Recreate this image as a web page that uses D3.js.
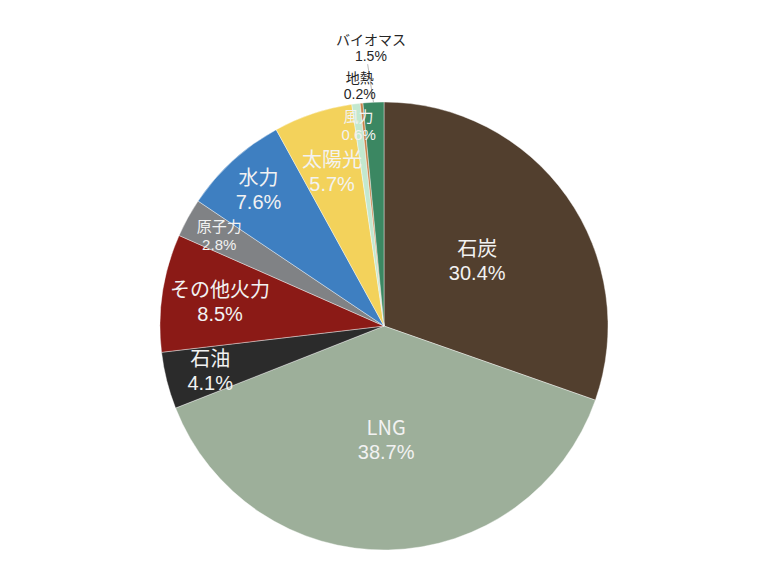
<!DOCTYPE html>
<html>
<head>
<meta charset="utf-8">
<script src="https://cdn.jsdelivr.net/npm/d3@7"></script>
<style>
  body { margin: 0; background: #fff; }
  text { font-family: "Noto Sans CJK JP", "Noto Sans", sans-serif; }
  text.pct { font-family: "Liberation Sans", Arial, sans-serif; }
</style>
</head>
<body>
<div id="chart"></div>
<script>
// data, clockwise from 12 o'clock
const categories = ['石炭', 'LNG', '石油', 'その他火力', '原子力', '水力', '太陽光', '風力', '地熱', 'バイオマス'];
const shares = [30.4, 38.7, 4.1, 8.5, 2.8, 7.6, 5.7, 0.6, 0.2, 1.5];
const colors = ['#523f2e', '#9daf9a', '#2b2b2b', '#8b1a16', '#808285', '#3e7fc1', '#f3d25b', '#c3e8cf', '#c8834a', '#3b8762'];

// label placement (fraction of radius) and text size
const labelR = [0.51, 0.505, 0.8, 0.74, 0.84, 0.83, 0.73, 0.905, 1.08, 1.245];
const fontSize = [20, 20, 20, 20, 15, 20, 20, 15, 14, 14];
const outside = [false, false, false, false, false, false, false, false, true, true];

const width = 768;
const height = 576;
const cx = 384;
const cy = 326;
const radius = 224;

const data = categories.map((c, i) => ({ name: c, value: shares[i], i }));

const svg = d3
  .select('#chart')
  .append('svg')
  .attr('width', width)
  .attr('height', height);

const g = svg.append('g').attr('transform', `translate(${cx}, ${cy})`);

const pie = d3.pie().sort(null).value((d) => d.value);
const arcs = pie(data);
const arc = d3.arc().innerRadius(0).outerRadius(radius);

g.selectAll('.slice')
  .data(arcs)
  .join('path')
  .attr('class', 'slice')
  .attr('d', arc)
  .attr('fill', (d) => colors[d.data.i])
  .attr('stroke', '#ffffff')
  .attr('stroke-width', 0.4);

// leader line for バイオマス (label sits above 地熱)
const mid = (d) => (d.startAngle + d.endAngle) / 2;
const bio = arcs[9];
g.append('line')
  .attr('x1', Math.sin(mid(bio)) * radius * 1.17 - 4)
  .attr('y1', -Math.cos(mid(bio)) * radius * 1.17)
  .attr('x2', Math.sin(mid(bio)) * radius)
  .attr('y2', -Math.cos(mid(bio)) * radius)
  .attr('stroke', '#a6a6a6')
  .attr('stroke-width', 0.8);

const labels = g.selectAll('.label')
  .data(arcs)
  .join('g')
  .attr('class', 'label')
  .attr('font-size', (d) => fontSize[d.data.i])
  .attr('fill', (d) => (outside[d.data.i] ? '#262626' : '#f2f2f2'))
  .attr('text-anchor', 'middle')
  .attr('transform', (d) => {
    const a = mid(d);
    const r = radius * labelR[d.data.i];
    return `translate(${Math.sin(a) * r}, ${-Math.cos(a) * r})`;
  });

labels.append('text')
  .attr('y', (d) => -fontSize[d.data.i] * 0.2)
  .text((d) => d.data.name);

labels.append('text')
  .attr('class', 'pct')
  .attr('y', (d) => fontSize[d.data.i] * 1.0)
  .text((d) => `${d.data.value.toFixed(1)}%`);
</script>
</body>
</html>
